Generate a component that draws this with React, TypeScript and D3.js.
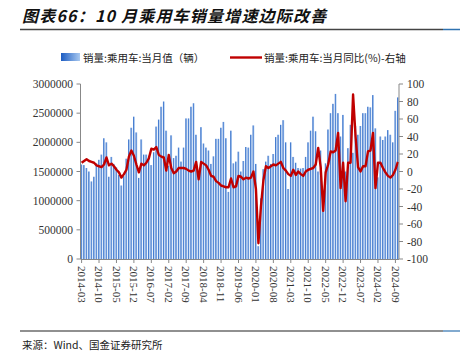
import React from "react";
import * as d3 from "d3";

// monthly categories 2014-03 .. 2024-10
const months: string[] = d3
  .timeMonth.range(new Date(2014, 2, 1), new Date(2024, 10, 1))
  .map((d) => d3.timeFormat("%Y-%m")(d));

const tickLabels = [
  "2014-03", "2014-10", "2015-05", "2015-12", "2016-07", "2017-02", "2017-09",
  "2018-04", "2018-11", "2019-06", "2020-01", "2020-08", "2021-03", "2021-10",
  "2022-05", "2022-12", "2023-07", "2024-02", "2024-09",
];

// 销量:乘用车:当月值（辆）
const sales = [
  1620000, 1610000, 1560000, 1500000, 1330000, 1410000, 1640000, 1700000, 1790000, 2070000,
  2000000, 1410000, 1750000, 1630000, 1570000, 1440000, 1260000, 1420000, 1720000, 2050000,
  2250000, 2440000, 2170000, 1390000, 2050000, 1790000, 1790000, 1770000, 1610000, 1830000,
  2270000, 2390000, 2610000, 2700000, 2200000, 1600000, 2120000, 1730000, 1770000, 1910000,
  1670000, 1910000, 2410000, 2410000, 2610000, 2670000, 2130000, 1470000, 2260000, 1980000,
  1910000, 1860000, 1630000, 1760000, 2060000, 2060000, 2250000, 2350000, 2070000, 1150000,
  2200000, 1640000, 1670000, 1840000, 1500000, 1680000, 1920000, 1910000, 2130000, 2290000,
  1630000, 220000, 1040000, 1540000, 1670000, 1770000, 1630000, 1800000, 2090000, 2130000,
  2300000, 2380000, 2000000, 1200000, 2000000, 1750000, 1650000, 1560000, 1550000, 1560000,
  1750000, 2000000, 2200000, 2440000, 2190000, 1500000, 1860000, 970000, 1640000, 2220000,
  2500000, 2660000, 2830000, 2500000, 2100000, 2470000, 1500000, 1900000, 2300000, 1820000,
  2280000, 2130000, 2280000, 2500000, 2500000, 2610000, 2600000, 2810000, 2240000, 1400000,
  2100000, 2040000, 2100000, 2210000, 2130000, 2000000, 2540000, 2770000,
];

// 销量:乘用车:当月同比(%)
const yoy = [
  10, 12, 14, 12, 11, 10, 7, 6, 5, 8,
  16, 7, 9, 6, 2, -1, -7, -3, 2, 17,
  24, 18, 8, -1, 9, 7, 10, 15, 26, 25,
  28, 19, 17, 16, 1, 19, 4, -2, 0, 4,
  4, 4, 3, 1, 0, 1, 11, -9, 11, 9,
  7, 2, -5, -6, -11, -13, -16, -17, -18, -18,
  -8, -18, -17, -5, -6, -9, -7, -8, -7, 0,
  -20, -82, -40, -10, 6, 4, 6, 8, 7, 9,
  11, 4, 1, -3, -5, 2, -4, 0, -3, -5,
  0, 2, 3, 4, 8, 27, 5, -45, -1, 8,
  23, 22, 24, 44, -19, 10, -34, 10, 10, 88,
  40, 5, 0, 6, 6, 23, 24, 44, -19, 10,
  10, 4, -1, -5, -7, -4, 2, 11,
];

const leftTicks = [0, 500000, 1000000, 1500000, 2000000, 2500000, 3000000];
const rightTicks = [-100, -80, -60, -40, -20, 0, 20, 40, 60, 80, 100];

export default function App() {
  const W = 460, H = 362;
  const left = 80.5, right = 399, top = 84, bottom = 259;

  const x = d3.scaleBand<string>().domain(months).range([left, right]).paddingInner(0.32).paddingOuter(0.1);
  const yL = d3.scaleLinear().domain([0, 3000000]).range([bottom, top]);
  const yR = d3.scaleLinear().domain([-100, 100]).range([bottom, top]);
  const cx = (m: string) => (x(m) as number) + x.bandwidth() / 2;

  const line = d3
    .line<number>()
    .x((_, i) => cx(months[i]))
    .y((d) => yR(d));

  const serif = "'Liberation Serif', 'DejaVu Serif', serif";
  const cjk = "'Noto Sans CJK SC', sans-serif";

  return (
    <svg
      width={W}
      height={H}
      viewBox={`0 0 ${W} ${H}`}
      style={{ position: "absolute", left: 0, top: 0, background: "#fff" }}
    >
      <defs>
        <linearGradient id="barGrad" x1="0" x2="1" y1="0" y2="0">
          <stop offset="0%" stopColor="#1c5cc2" />
          <stop offset="100%" stopColor="#a9c9f0" />
        </linearGradient>
      </defs>

      {/* title */}
      <text
        x={22}
        y={22}
        fontFamily={cjk}
        fontSize={16}
        fontWeight="bold"
        fontStyle="italic"
        letterSpacing={1.2}
        fill="#111"
      >
        图表66：10 月乘用车销量增速边际改善
      </text>
      <line x1={20} x2={443} y1={29.5} y2={29.5} stroke="#444" strokeWidth={1.5} />
      <line x1={443} x2={460} y1={29.5} y2={29.5} stroke="#2f72b0" strokeWidth={1.5} />

      {/* legend */}
      <rect x={61} y={53} width={19} height={8} fill="url(#barGrad)" />
      <text x={83} y={61.5} fontFamily={cjk} fontSize={10.5} fill="#222">
        销量:乘用车:当月值（辆）
      </text>
      <line x1={230} x2={262} y1={57.5} y2={57.5} stroke="#c00000" strokeWidth={2.4} />
      <text x={264} y={61.5} fontFamily={cjk} fontSize={10.5} fill="#222">
        销量:乘用车:当月同比(%)-右轴
      </text>

      {/* bars */}
      {sales.map((v, i) => (
        <rect
          key={months[i]}
          x={x(months[i])}
          y={yL(v)}
          width={x.bandwidth()}
          height={yL(0) - yL(v)}
          fill="url(#barGrad)"
        />
      ))}

      {/* line */}
      <path
        d={line(yoy) || ""}
        fill="none"
        stroke="#c00000"
        strokeWidth={2.4}
        strokeLinejoin="round"
      />

      {/* axes */}
      <line x1={left} x2={left} y1={top} y2={bottom} stroke="#888" />
      <line x1={right} x2={right} y1={top} y2={bottom} stroke="#888" />
      <line x1={left} x2={right} y1={bottom + 0.5} y2={bottom + 0.5} stroke="#888" />

      {leftTicks.map((t) => (
        <g key={"l" + t}>
          <line x1={left - 4} x2={left} y1={yL(t)} y2={yL(t)} stroke="#888" />
          <text
            x={73}
            y={yL(t)}
            dy="0.35em"
            textAnchor="end"
            fontFamily={serif}
            fontSize={11.5}
            fill="#333"
          >
            {t}
          </text>
        </g>
      ))}
      {rightTicks.map((t) => (
        <g key={"r" + t}>
          <line x1={right} x2={right + 4} y1={yR(t)} y2={yR(t)} stroke="#888" />
          <text
            x={407}
            y={yR(t)}
            dy="0.35em"
            textAnchor="start"
            fontFamily={serif}
            fontSize={11.5}
            fill="#333"
          >
            {t}
          </text>
        </g>
      ))}
      {tickLabels.map((m) => (
        <g key={m}>
          <line x1={cx(m)} x2={cx(m)} y1={bottom} y2={bottom + 4} stroke="#888" />
          <text
            transform={`translate(${cx(m)},${bottom + 7}) rotate(90)`}
            dy="0.35em"
            textAnchor="start"
            fontFamily={serif}
            fontSize={11}
            fill="#333"
          >
            {m}
          </text>
        </g>
      ))}

      {/* source */}
      <line x1={20} x2={443} y1={331} y2={331} stroke="#222" strokeWidth={1.2} />
      <line x1={443} x2={460} y1={331} y2={331} stroke="#2f72b0" strokeWidth={1.2} />
      <text x={22} y={349} fontFamily={cjk} fontSize={10.5} fill="#222">
        来源：Wind、国金证券研究所
      </text>
    </svg>
  );
}
